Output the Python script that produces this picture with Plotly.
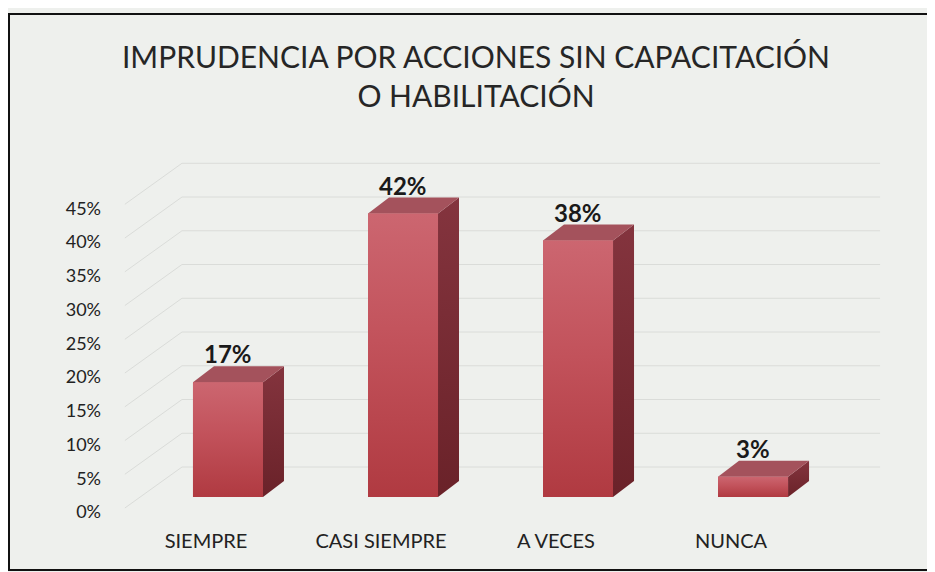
import plotly.graph_objects as go

# ---- data ----
categories = ["SIEMPRE", "CASI SIEMPRE", "A VECES", "NUNCA"]
values = [17, 42, 38, 3]
tick_values = [0, 5, 10, 15, 20, 25, 30, 35, 40, 45]
tick_labels = ["0%", "5%", "10%", "15%", "20%", "25%", "30%", "35%", "40%", "45%"]
title_text = "IMPRUDENCIA POR ACCIONES SIN CAPACITACIÓN<br>O HABILITACIÓN"

# ---- style / geometry ----
BG = "#eef0ed"
FRONT_TOP = "#cc6670"
FRONT_BOTTOM = "#b03a41"
SIDE_TOP = "#84343e"
SIDE_BOTTOM = "#6a2229"
TOP_FACE = "#a4525c"
GRID = "#dadcd9"
FONT = "Lato, 'Open Sans', sans-serif"

W, H = 927, 564   # page has an 8px body margin
bar_w = 0.40      # front-face width (category units)
dx = 0.12         # bar depth offset, x (category units)
dy = 2.37         # bar depth offset, y (percent units)
wall_front_dy = -1.63
wall_back_dy = 4.44
wall_front_x = -0.589
wall_back_x = -0.263
wall_right_x = 3.726

x_idx = list(range(len(categories)))

fig = go.Figure()

# front faces (bars)
fig.add_trace(go.Bar(
    x=x_idx, y=values, width=bar_w,
    marker=dict(color=FRONT_BOTTOM, line=dict(width=0)),
    hoverinfo="skip", showlegend=False,
))

for i, v in zip(x_idx, values):
    xl, xr = i - bar_w / 2, i + bar_w / 2
    # side face
    fig.add_trace(go.Scatter(
        x=[xr, xr + dx, xr + dx, xr, xr],
        y=[0, dy, v + dy, v, 0],
        mode="lines", fill="toself", line=dict(width=0),
        fillgradient=dict(type="vertical",
                          colorscale=[[0, SIDE_BOTTOM], [1, SIDE_TOP]]),
        hoverinfo="skip", showlegend=False,
    ))
    # top face
    fig.add_trace(go.Scatter(
        x=[xl, xr, xr + dx, xl + dx, xl],
        y=[v, v, v + dy, v + dy, v],
        mode="lines", fill="toself", line=dict(width=0),
        fillcolor=TOP_FACE,
        hoverinfo="skip", showlegend=False,
    ))
    # front face gradient
    fig.add_trace(go.Scatter(
        x=[xl, xr, xr, xl, xl],
        y=[0, 0, v, v, 0],
        mode="lines", fill="toself", line=dict(width=0),
        fillgradient=dict(type="vertical",
                          colorscale=[[0, FRONT_BOTTOM], [0.55, "#c2525b"], [1, FRONT_TOP]]),
        hoverinfo="skip", showlegend=False,
    ))
    # value label
    fig.add_annotation(
        x=i, y=v + dy, text=f"{v}%", showarrow=False,
        yanchor="bottom", yshift=-4,
        font=dict(family=FONT, size=24, color="#1a1a1a", weight="bold"),
    )

# 3D walls gridlines (side wall diagonal + back wall horizontal)
for t in tick_values:
    fig.add_shape(type="line", xref="x", yref="y", layer="below",
                  x0=wall_front_x, y0=t + wall_front_dy,
                  x1=wall_back_x, y1=t + wall_back_dy,
                  line=dict(color=GRID, width=1))
    fig.add_shape(type="line", xref="x", yref="y", layer="below",
                  x0=wall_back_x, y0=t + wall_back_dy,
                  x1=wall_right_x, y1=t + wall_back_dy,
                  line=dict(color=GRID, width=1))

# outer border
fig.add_shape(type="rect", xref="paper", yref="paper",
              x0=-0.1451, x1=1.25, y0=-0.1316, y1=1.3316,
              line=dict(color="#111111", width=2), fillcolor="rgba(0,0,0,0)")

fig.update_layout(
    width=W, height=H,
    margin=dict(l=112, r=50, t=132, b=52),
    paper_bgcolor=BG, plot_bgcolor=BG,
    showlegend=False,
    title=dict(text=title_text, x=468 / W, xanchor="center",
               y=1 - 60 / H, yanchor="middle",
               font=dict(family=FONT, size=30, color="#262626")),
    xaxis=dict(range=[-0.617, 3.754], tickmode="array", tickvals=x_idx,
               ticktext=categories, showgrid=False, zeroline=False,
               showline=False, ticks="", ticklabelshift=-22,
               ticklabelstandoff=7,
               tickfont=dict(family=FONT, size=20, color="#222222")),
    yaxis=dict(range=[-3.41, 52.89], tickmode="array", tickvals=tick_values,
               ticktext=tick_labels, showgrid=False, zeroline=False,
               showline=False, ticks="", ticklabelshift=15,
               ticklabelstandoff=18,
               tickfont=dict(family=FONT, size=18, color="#222222")),
)

fig.write_html("out.html")
